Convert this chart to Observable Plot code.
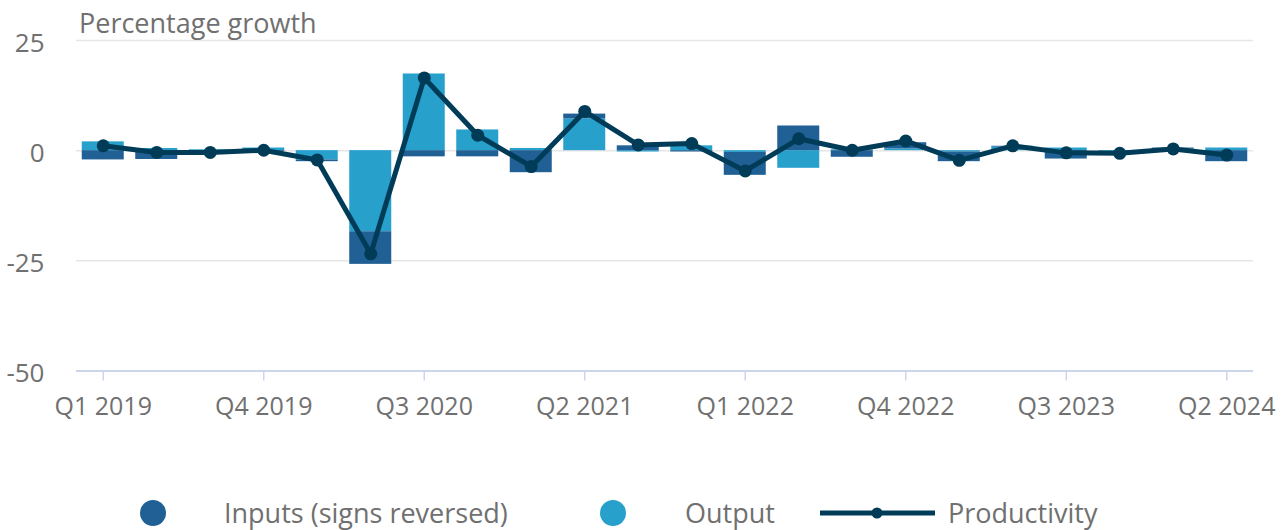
<!DOCTYPE html>
<html><head><meta charset="utf-8">
<script src="https://cdn.jsdelivr.net/npm/d3@7"></script>
<script src="https://cdn.jsdelivr.net/npm/@observablehq/plot@0.6"></script>
<style>
body{margin:0;background:#fff;font-family:"Open Sans",sans-serif;color:#707070;}
#wrap{position:relative;width:1282px;height:530px;overflow:hidden;background:#fff;}
#chart{position:absolute;left:0;top:0;}
#title{position:absolute;left:79px;top:10px;font-size:27px;line-height:26px;white-space:nowrap;}
#legend{position:absolute;left:0;top:495px;width:1282px;height:36px;}
.li{position:absolute;top:0;height:36px;line-height:36px;font-size:27px;white-space:nowrap;}
.sw{position:absolute;top:0;}
</style></head>
<body>
<div id="wrap"><div id="chart"></div><div id="title">Percentage growth</div><div id="legend"></div></div>
<script>
const quarters = ["Q1 2019","Q2 2019","Q3 2019","Q4 2019","Q1 2020","Q2 2020","Q3 2020","Q4 2020","Q1 2021","Q2 2021","Q3 2021","Q4 2021","Q1 2022","Q2 2022","Q3 2022","Q4 2022","Q1 2023","Q2 2023","Q3 2023","Q4 2023","Q1 2024","Q2 2024"];
const output       = [2.0, 0.5, 0.2, 0.6, -2.1, -18.4, 17.4, 4.7, 0.5, 7.2, -0.3, 1.1, -0.4, -4.0, 0.2, 0.4, -0.3, 0.8, 0.6, -0.2, 0.4, 0.6];
const inputs       = [-2.1, -2.0, -0.4, -0.2, -0.4, -7.4, -1.4, -1.4, -5.0, 1.1, 1.1, -0.3, -5.2, 5.6, -1.5, 1.4, -2.2, 0.2, -1.9, -0.3, 0.2, -2.5];
const productivity = [1.1, -0.4, -0.4, 0.1, -2.1, -23.4, 16.5, 3.5, -3.6, 8.9, 1.3, 1.6, -4.6, 2.7, 0.1, 2.2, -2.2, 1.1, -0.5, -0.6, 0.4, -1.0];
const seriesNames = ["Inputs (signs reversed)", "Output", "Productivity"];
const seriesColors = ["#206095", "#27a0cc", "#003c57"];
const xTicks = ["Q1 2019","Q4 2019","Q3 2020","Q2 2021","Q1 2022","Q4 2022","Q3 2023","Q2 2024"];
const yTicks = [25, 0, -25, -50];
const yDomain = [-50, 25];

const rows = [];
quarters.forEach((q, i) => {
  rows.push({quarter: q, series: seriesNames[1], value: output[i]});
  rows.push({quarter: q, series: seriesNames[0], value: inputs[i]});
});
const prodRows = quarters.map((q, i) => ({quarter: q, value: productivity[i]}));

const plot = Plot.plot({
  width: 1282, height: 494,
  marginLeft: 76, marginRight: 29, marginTop: 40, marginBottom: 123.5,
  style: {fontFamily: '"Open Sans", sans-serif', fontSize: "26px", color: "#707070", background: "#fff", overflow: "visible"},
  x: {domain: quarters, type: "band", paddingInner: 0.215, paddingOuter: 0.1075, round: false, label: null},
  y: {domain: yDomain, label: null},
  color: {domain: seriesNames.slice(0, 2), range: seriesColors.slice(0, 2)},
  marks: [
    Plot.gridY(yTicks.filter(d => d !== yDomain[0]), {stroke: "#e6e6e6", strokeOpacity: 1, strokeWidth: 1.5}),
    Plot.barY(rows, {x: "quarter", y: "value", fill: "series", z: "series", order: [seriesNames[1], seriesNames[0]]}),
    Plot.ruleY([yDomain[0]], {stroke: "#ccd6eb", strokeWidth: 2}),
    Plot.axisX(xTicks, {tickSize: 10, tickPadding: 16, stroke: "#ccd6eb", strokeWidth: 1.5, fill: "#707070", fontSize: 25, label: null}),
    Plot.axisY(yTicks, {tickSize: 0, tickPadding: 32, fill: "#707070", dy: 3, tickFormat: d => String(d), label: null}),
    Plot.line(prodRows, {x: "quarter", y: "value", stroke: seriesColors[2], strokeWidth: 5}),
    Plot.dot(prodRows, {x: "quarter", y: "value", fill: seriesColors[2], r: 6.5})
  ]
});
document.getElementById("chart").appendChild(plot);

// legend
const legend = document.getElementById("legend");
const items = [
  {sw: 139, swW: 28, text: 224, kind: "circle"},
  {sw: 599, swW: 28, text: 685, kind: "circle"},
  {sw: 818, swW: 118, text: 948, kind: "line"}
];
items.forEach((it, i) => {
  const s = document.createElement("div");
  s.className = "sw";
  s.style.left = it.sw + "px";
  const c = seriesColors[i];
  if (it.kind === "circle") {
    s.innerHTML = `<svg width="${it.swW}" height="36"><circle cx="14" cy="18" r="13" fill="${c}"/></svg>`;
  } else {
    s.innerHTML = `<svg width="${it.swW}" height="36"><line x1="2" x2="117" y1="18" y2="18" stroke="${c}" stroke-width="5"/><circle cx="59" cy="18" r="5.5" fill="${c}"/></svg>`;
  }
  legend.appendChild(s);
  const t = document.createElement("div");
  t.className = "li";
  t.style.left = it.text + "px";
  t.textContent = seriesNames[i];
  legend.appendChild(t);
});
</script>
</body></html>
